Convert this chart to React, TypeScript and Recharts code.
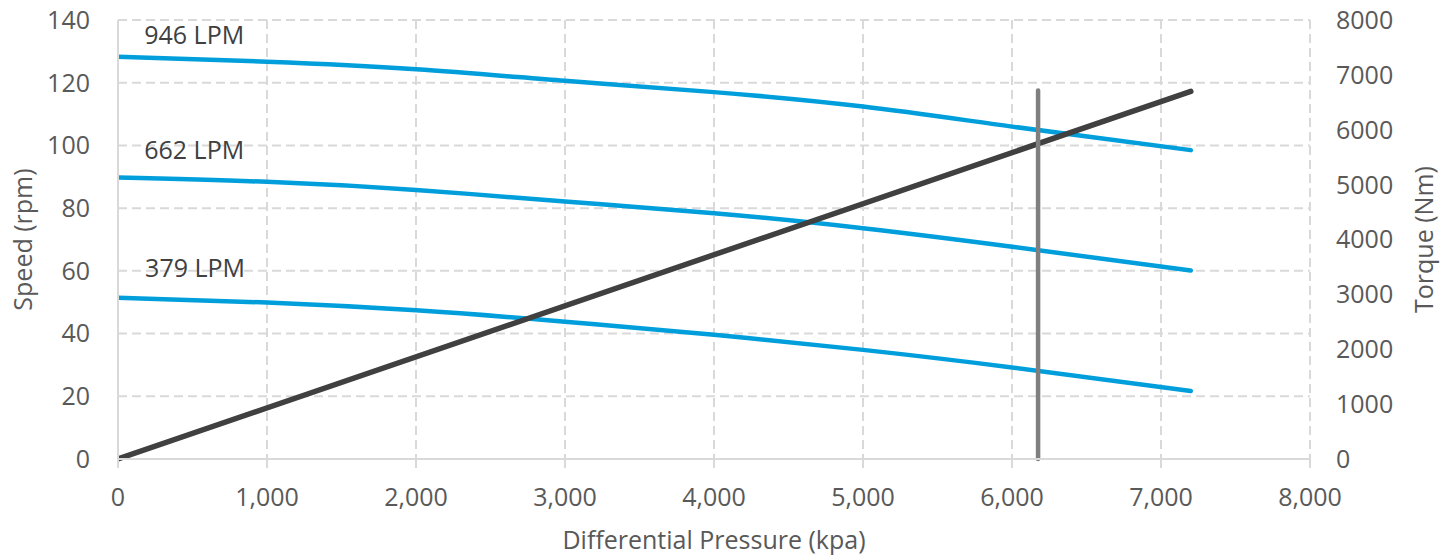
import React from 'react';
import { LineChart, Line, XAxis, YAxis, CartesianGrid, ReferenceDot } from 'recharts';

const pressure = [0, 1000, 2000, 3000, 4000, 5000, 6000, 7200];
const speed946 = [128.3, 126.7, 124.3, 120.6, 117.0, 112.4, 106.0, 98.5];
const speed662 = [89.8, 88.4, 85.8, 82.1, 78.4, 73.6, 67.7, 60.1];
const speed379 = [51.4, 49.9, 47.4, 43.8, 39.6, 34.8, 29.2, 21.7];

const torquePressure = [0, 7200];
const torqueValues = [0, 6700];

const limitPressure = [6175, 6175];
const limitSpeed = [0, 117.5];

const xTicks = [0, 1000, 2000, 3000, 4000, 5000, 6000, 7000, 8000];
const xMinorTicks = [
  200, 400, 600, 800, 1200, 1400, 1600, 1800, 2200, 2400, 2600, 2800,
  3200, 3400, 3600, 3800, 4200, 4400, 4600, 4800, 5200, 5400, 5600, 5800,
  6200, 6400, 6600, 6800, 7200, 7400, 7600, 7800,
];
const speedTicks = [0, 20, 40, 60, 80, 100, 120, 140];
const torqueTicks = [0, 1000, 2000, 3000, 4000, 5000, 6000, 7000, 8000];

const flowLabels = ['946 LPM', '662 LPM', '379 LPM'];
const flowLabelX = [176, 176, 182];
const flowLabelY = [135.5, 99.0, 61.2];

const speedData = pressure.map((p, i) => ({
  p,
  s946: speed946[i],
  s662: speed662[i],
  s379: speed379[i],
}));
const torqueData = torquePressure.map((p, i) => ({ p, t: torqueValues[i] }));
const limitData = limitPressure.map((p, i) => ({ p, v: limitSpeed[i] }));

const FONT = '"Open Sans", sans-serif';
const TEXT = '#595959';
const GRID = '#d9d9d9';
const BLUE = '#009fdc';
const FS = 25;

const tickStyle = { fontSize: FS, fill: TEXT, fontFamily: FONT };

export default function App() {
  return (
    <div style={{ position: 'fixed', left: 0, top: 0, background: '#fff' }}>
      <LineChart
        width={1451}
        height={556}
        margin={{ top: 20, right: 0, bottom: 0, left: 0 }}
        style={{ fontFamily: FONT }}
      >
        <CartesianGrid
          xAxisId="main"
          yAxisId="left"
          stroke={GRID}
          strokeWidth={2}
          strokeDasharray="9 5"
        />
        <XAxis
          xAxisId="main"
          dataKey="p"
          type="number"
          domain={[0, 8000]}
          ticks={xTicks}
          allowDataOverflow
          height={97}
          tick={tickStyle}
          tickFormatter={(v: number) => v.toLocaleString('en-US')}
          tickSize={9}
          tickMargin={20}
          axisLine={{ stroke: GRID, strokeWidth: 2 }}
          tickLine={{ stroke: GRID, strokeWidth: 2 }}
          label={{
            content: (props: any) => {
              const vb = props.viewBox;
              return (
                <text
                  x={vb.x + vb.width / 2}
                  y={vb.y + 90}
                  textAnchor="middle"
                  fontSize={FS}
                  fill={TEXT}
                  fontFamily={FONT}
                >
                  Differential Pressure (kpa)
                </text>
              );
            },
          }}
        />
        <XAxis
          xAxisId="minor"
          dataKey="p"
          type="number"
          domain={[0, 8000]}
          ticks={xMinorTicks}
          allowDataOverflow
          height={0}
          mirror
          tick={false}
          tickSize={8}
          axisLine={false}
          tickLine={{ stroke: GRID, strokeWidth: 2 }}
        />
        <YAxis
          yAxisId="left"
          type="number"
          domain={[0, 140]}
          ticks={speedTicks}
          width={118}
          tick={tickStyle}
          tickSize={0}
          tickMargin={28}
          tickLine={false}
          axisLine={{ stroke: GRID, strokeWidth: 2 }}
          label={{
            content: (props: any) => {
              const vb = props.viewBox;
              const cx = vb.x + 22;
              const cy = vb.y + vb.height / 2;
              return (
                <text
                  x={cx}
                  y={cy}
                  transform={`rotate(-90 ${cx} ${cy})`}
                  textAnchor="middle"
                  dominantBaseline="central"
                  fontSize={FS}
                  fill={TEXT}
                  fontFamily={FONT}
                >
                  Speed (rpm)
                </text>
              );
            },
          }}
        />
        <YAxis
          yAxisId="right"
          orientation="right"
          type="number"
          domain={[0, 8000]}
          ticks={torqueTicks}
          width={141}
          tick={{ ...tickStyle, textAnchor: 'start' }}
          tickSize={0}
          tickMargin={26}
          tickLine={false}
          axisLine={false}
          label={{
            content: (props: any) => {
              const vb = props.viewBox;
              const cx = vb.x + 113;
              const cy = vb.y + vb.height / 2;
              return (
                <text
                  x={cx}
                  y={cy}
                  transform={`rotate(-90 ${cx} ${cy})`}
                  textAnchor="middle"
                  dominantBaseline="central"
                  fontSize={FS}
                  fill={TEXT}
                  fontFamily={FONT}
                >
                  Torque (Nm)
                </text>
              );
            },
          }}
        />
        <Line
          xAxisId="main"
          yAxisId="left"
          data={speedData}
          dataKey="s946"
          type="natural"
          stroke={BLUE}
          strokeWidth={4.5}
          strokeLinecap="round"
          dot={false}
          activeDot={false}
          isAnimationActive={false}
        />
        <Line
          xAxisId="main"
          yAxisId="left"
          data={speedData}
          dataKey="s662"
          type="natural"
          stroke={BLUE}
          strokeWidth={4.5}
          strokeLinecap="round"
          dot={false}
          activeDot={false}
          isAnimationActive={false}
        />
        <Line
          xAxisId="main"
          yAxisId="left"
          data={speedData}
          dataKey="s379"
          type="natural"
          stroke={BLUE}
          strokeWidth={4.5}
          strokeLinecap="round"
          dot={false}
          activeDot={false}
          isAnimationActive={false}
        />
        <Line
          xAxisId="main"
          yAxisId="right"
          data={torqueData}
          dataKey="t"
          type="linear"
          stroke="#404040"
          strokeWidth={5.5}
          strokeLinecap="round"
          dot={false}
          activeDot={false}
          isAnimationActive={false}
        />
        <Line
          xAxisId="main"
          yAxisId="left"
          data={limitData}
          dataKey="v"
          type="linear"
          stroke="#7f7f7f"
          strokeWidth={4.5}
          strokeLinecap="round"
          dot={false}
          activeDot={false}
          isAnimationActive={false}
        />
        {flowLabels.map((txt, i) => (
          <ReferenceDot
            key={txt}
            xAxisId="main"
            yAxisId="left"
            x={flowLabelX[i]}
            y={flowLabelY[i]}
            r={0}
            ifOverflow="visible"
            shape={(props: any) => (
              <text
                x={props.cx}
                y={props.cy}
                dominantBaseline="central"
                fontSize={FS}
                fill="#404040"
                fontFamily={FONT}
              >
                {txt}
              </text>
            )}
          />
        ))}
      </LineChart>
    </div>
  );
}
